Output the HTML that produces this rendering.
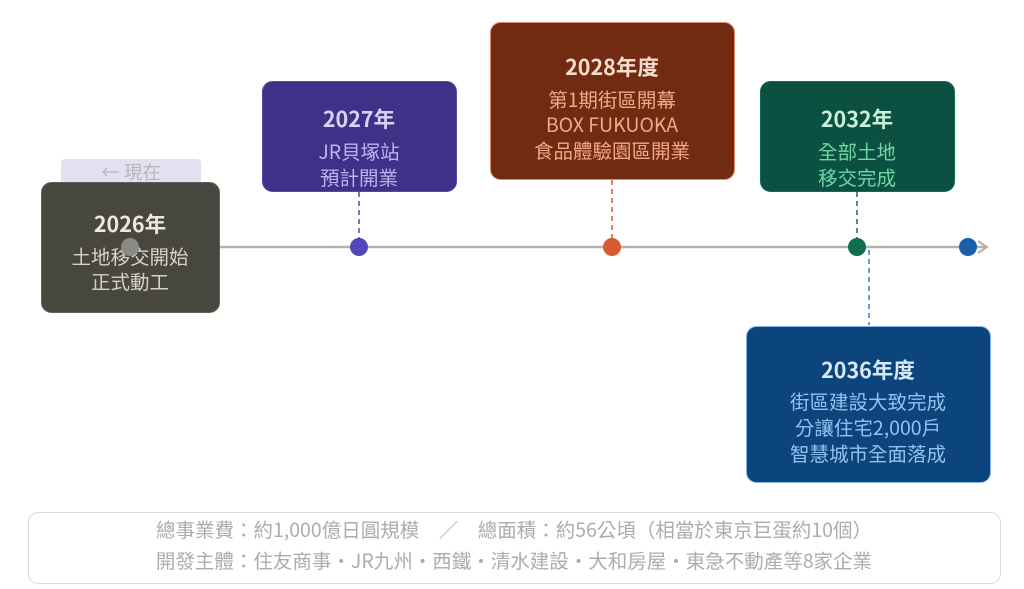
<!DOCTYPE html>
<html><head><meta charset="utf-8"><style>
html,body{margin:0;padding:0;background:#fff;width:1024px;height:589px;overflow:hidden}
text{font-family:"Noto Sans CJK TC","Liberation Sans",sans-serif;text-anchor:middle}
.t{font-size:21.5px;font-weight:bold}
.l{font-size:19.5px}
</style></head><body>
<svg width="1024" height="589" viewBox="0 0 1024 589" xmlns="http://www.w3.org/2000/svg">
<line x1="130" y1="247" x2="986" y2="247" stroke="#b4b2a9" stroke-width="2.5"/>
<polyline points="978,241 987,247 978,253" fill="none" stroke="#b4b2a9" stroke-width="2"/>
<line x1="359" y1="192" x2="359" y2="240" stroke="#5546b8" stroke-width="1.5" stroke-dasharray="5,4"/>
<line x1="612" y1="180" x2="612" y2="240" stroke="#d85a30" stroke-width="1.5" stroke-dasharray="5,4"/>
<line x1="857" y1="192" x2="857" y2="240" stroke="#0f6e50" stroke-width="1.5" stroke-dasharray="5,4"/>
<line x1="869" y1="250" x2="869" y2="325" stroke="#3a78c0" stroke-width="1.5" stroke-dasharray="5,4"/>
<rect x="61" y="159" width="140" height="26" rx="4" fill="#e3e1ef"/>
<text x="131" y="179" font-size="18.5" fill="#b8b6c0">← 現在</text>
<rect x="41.5" y="182.5" width="178" height="130" rx="10" fill="#47463f" stroke="#5f5e57"/>
<text class="t" x="130" y="232" fill="#ece8e0">2026年</text>
<text class="l" x="130" y="264" fill="#d8d2c6">土地移交開始</text>
<text class="l" x="130" y="289" fill="#d8d2c6">正式動工</text>
<circle cx="130" cy="247" r="9" fill="#8a8984"/>
<rect x="262.5" y="81.5" width="194" height="110" rx="10" fill="#3e3188" stroke="#5546b8"/>
<text class="t" x="359" y="127" fill="#d8d4f6">2027年</text>
<text class="l" x="359" y="159" fill="#bcb4f0">JR貝塚站</text>
<text class="l" x="359" y="185" fill="#bcb4f0">預計開業</text>
<circle cx="359" cy="247" r="9" fill="#5546b8"/>
<rect x="490.5" y="22.5" width="244" height="157" rx="10" fill="#712b13" stroke="#e08a68"/>
<text class="t" x="612" y="75" fill="#f6dccc">2028年度</text>
<text class="l" x="612" y="107" fill="#f2a888">第1期街區開幕</text>
<text class="l" x="612" y="132" fill="#f2a888">BOX FUKUOKA</text>
<text class="l" x="612" y="158" fill="#f2a888">食品體驗園區開業</text>
<circle cx="612" cy="247" r="9" fill="#d85a30"/>
<rect x="760.5" y="81.5" width="194" height="110" rx="10" fill="#0b5040" stroke="#0f6e50"/>
<text class="t" x="857" y="127" fill="#c8f0dc">2032年</text>
<text class="l" x="857" y="159" fill="#6fd6a6">全部土地</text>
<text class="l" x="857" y="185" fill="#6fd6a6">移交完成</text>
<circle cx="857" cy="247" r="9" fill="#0f6e50"/>
<circle cx="968" cy="247" r="9" fill="#1a5fa8"/>
<rect x="746.5" y="326.5" width="244" height="156" rx="10" fill="#0c447c" stroke="#85b7eb"/>
<text class="t" x="868" y="378" fill="#d8e8f8">2036年度</text>
<text class="l" x="868" y="409" fill="#92c2f0">街區建設大致完成</text>
<text class="l" x="868" y="435" fill="#92c2f0">分讓住宅2,000戶</text>
<text class="l" x="868" y="461" fill="#92c2f0">智慧城市全面落成</text>
<rect x="28.5" y="512.5" width="972" height="71" rx="10" fill="#fff" stroke="#dcdad4"/>
<text x="514" y="537" font-size="19.5" fill="#aeaca6">總事業費：約1,000億日圓規模　／　總面積：約56公頃（相當於東京巨蛋約10個）</text>
<text x="514" y="568" font-size="19.5" fill="#aeaca6">開發主體：住友商事・JR九州・西鐵・清水建設・大和房屋・東急不動產等8家企業</text>
</svg>
</body></html>
